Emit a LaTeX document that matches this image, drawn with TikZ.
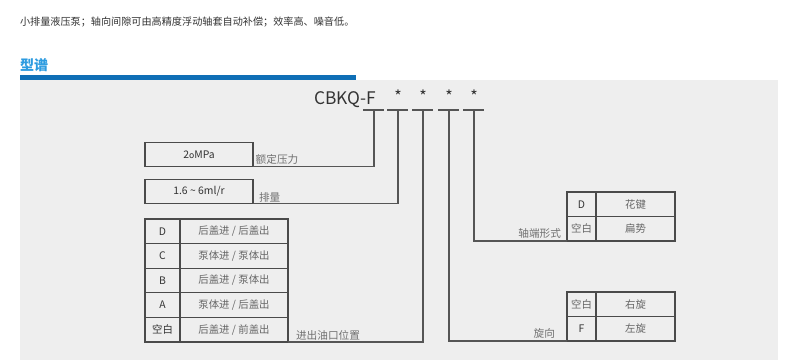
\documentclass[tikz,border=0pt]{standalone}
\usepackage{fontspec}
\setmainfont{Noto Sans CJK SC}

\begin{document}
\begin{tikzpicture}[x=0.75pt,y=-0.75pt,
  every node/.style={inner sep=0pt,outer sep=0pt},
  wire/.style={draw=wirec,line width=0.9pt},
  cell/.style={draw=frame,line width=0.9pt,minimum height=18.4pt,font=\fontsize{7.8}{9}\selectfont,text=txt},
  keycell/.style={cell,minimum width=26.25pt,text=ink},
  valcell/.style={cell,minimum width=81pt},
  skey/.style={cell,minimum width=21.75pt,text=ink},
  sval/.style={cell,minimum width=59.25pt},
  tag/.style={font=\fontsize{8}{9}\selectfont,text=note}]
  \definecolor{ink}{HTML}{333333}
  \definecolor{txt}{HTML}{666666}
  \definecolor{note}{HTML}{707070}
  \definecolor{frame}{HTML}{4A4A4A}
  \definecolor{wirec}{HTML}{555555}
  \definecolor{panel}{HTML}{EEEEEE}
  \definecolor{bar}{HTML}{0F6FB6}
  \definecolor{head}{HTML}{2C9BE0}
  \useasboundingbox (0,0) rectangle (800,360);
  \fill[white] (0,0) rectangle (800,360);
  % Intro line and section heading.
  \node[anchor=west,font=\fontsize{7.6}{9}\selectfont,text=ink] (intro) at (20,22) {小排量液压泵；轴向间隙可由高精度浮动轴套自动补偿；效率高、噪音低。};
  \node[anchor=west,font=\fontsize{10.5}{12}\bfseries,text=head] (title) at (20,65) {型谱};
  \fill[panel] (20,80) rectangle (778,360);
  \fill[bar] (20,75) rectangle (356,80);
  % Model code, with one underline per position.
  \node[anchor=base east,font=\fontsize{13}{15}\selectfont,text=ink] (code) at (376,104) {CBKQ-F};
  \foreach \i/\x in {1/374,2/398,3/423,4/449,5/474}{
    \coordinate (s\i) at (\x,110);
    \draw[wire] (\x-11,110) -- (\x+10,110);
  }
  \foreach \i/\x in {2/398,3/423,4/449,5/474}
    \node[anchor=base,font=\fontsize{12}{15}\selectfont,text=ink] (star\i) at (\x,103) {*};
  % Pressure and displacement.
  \node[cell,minimum width=81pt,text=ink] (pres) at (199,154.5) {2{\fontsize{6.5}{8}\selectfont o}MPa};
  \node[cell,minimum width=81pt,text=ink] (disp) at (199,191.5) {1.6 \textasciitilde{} 6ml/r};
  \node[tag,anchor=south west] (presLbl) at ([xshift=2pt,yshift=2pt]pres.south east) {额定压力};
  \node[tag,anchor=south west] (dispLbl) at ([xshift=4.5pt,yshift=1pt]disp.south east) {排量};
  % Oil port table.
  \foreach \k/\v [count=\i] in {D/{后盖进 / 后盖出},C/{泵体进 / 泵体出},B/{后盖进 / 泵体出},A/{泵体进 / 后盖出},空白/{后盖进 / 前盖出}}{
    \node[keycell] (pk\i) at (162.5,{219+24.6*(\i-0.5)}) {\k};
    \node[valcell] (pv\i) at (234,{219+24.6*(\i-0.5)}) {\v};
  }
  \node[tag,anchor=south west] (portLbl) at ([xshift=6pt,yshift=1pt]pv5.south east) {进出油口位置};
  % Shaft end table.
  \node[skey] (sk1) at (581.5,204.25) {D};
  \node[sval] (sv1) at (635.5,204.25) {花键};
  \node[skey,text=txt] (sk2) at (581.5,228.75) {空白};
  \node[sval] (sv2) at (635.5,228.75) {扁势};
  \node[tag,anchor=south east] (shaftLbl) at ([xshift=-4.5pt,yshift=2pt]sk2.south west) {轴端形式};
  % Rotation table.
  \node[skey,text=txt] (rk1) at (581.5,304.25) {空白};
  \node[sval] (rv1) at (635.5,304.25) {右旋};
  \node[skey] (rk2) at (581.5,328.75) {F};
  \node[sval] (rv2) at (635.5,328.75) {左旋};
  \node[tag,anchor=south east] (rotLbl) at ([xshift=-9pt,yshift=2pt]rk2.south west) {旋向};
  % Leaders from the code down to each table.
  \draw[wire] (s1) |- (pres.south east);
  \draw[wire] (s2) |- (disp.south east);
  \draw[wire] (s3) |- (pv5.south east);
  \draw[wire] (s4) |- (rk2.south west);
  \draw[wire] (s5) |- (sk2.south west);
\end{tikzpicture}
\end{document}
